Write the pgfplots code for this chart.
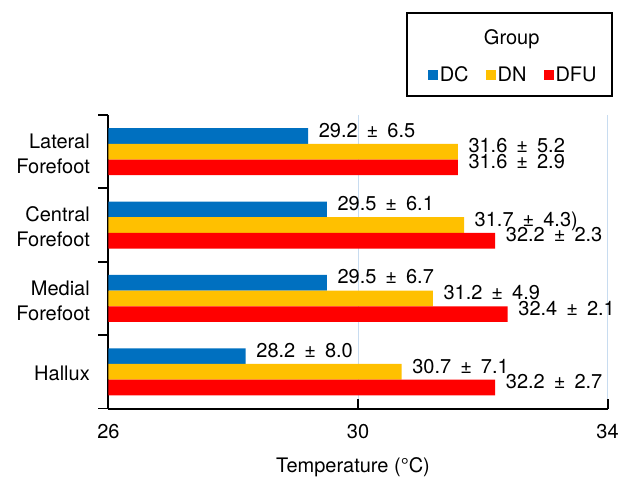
\documentclass[border=0pt]{standalone}
\usepackage{fontspec}
\setmainfont{TeX Gyre Heros}
\usepackage{pgfplots}
\usepackage{pgfplotstable}
\pgfplotsset{compat=1.18}
\definecolor{cDC}{HTML}{0070C0}
\definecolor{cDN}{HTML}{FFC000}
\definecolor{cDFU}{HTML}{FF0000}
\definecolor{gridblue}{RGB}{200,220,240}
\newcommand{\PM}{\hspace{0.45em}±\hspace{0.45em}}
\pgfplotstableread{
y  dc    dclab          dn    dnlab           dfu   dfulab
0  28.2  {28.2\PM 8.0}   30.7  {30.7\PM 7.1}    32.2  {32.2\PM 2.7}
1  29.5  {29.5\PM 6.7}   31.2  {31.2\PM 4.9}    32.4  {32.4\PM 2.1}
2  29.5  {29.5\PM 6.1}   31.7  {31.7\PM 4.3)}   32.2  {32.2\PM 2.3}
3  29.2  {29.2\PM 6.5}   31.6  {31.6\PM 5.2}    31.6  {31.6\PM 2.9}
}\datatable
\begin{document}
\begin{tikzpicture}[font=\fontsize{20}{25}\selectfont]
\useasboundingbox (-108.5pt,-68.5pt) rectangle (512.5pt,408.5pt);
\begin{axis}[
  scale only axis,
  width=499pt, height=293.5pt,
  xmin=26, xmax=34,
  ymin=-0.5, ymax=3.5,
  enlarge y limits=false,
  xtick={26,30,34},
  ytick={-0.5,0.5,1.5,2.5,3.5},
  yticklabels={},
  extra y ticks={0,1,2,3},
  extra y tick labels={Hallux,{Medial\\Forefoot},{Central\\Forefoot},{Lateral\\Forefoot}},
  extra y tick style={major tick length=0pt,
    yticklabel style={anchor=east, align=right, inner sep=0pt, xshift=-18.5pt, yshift=-2pt}},
  axis x line*=bottom,
  axis y line*=left,
  axis line style={line width=2pt, -},
  tick style={line width=1.8pt, black},
  major tick length=10pt,
  tick align=inside,
  xmajorgrids=true,
  major x grid style={gridblue, line width=1pt},
  /pgf/number format/assume math mode=true,
  ticklabel style={font=\fontsize{20}{25}\selectfont},
  xticklabel style={anchor=base, inner sep=0pt, yshift=-30pt},
  xlabel={Temperature (°C)},
  xlabel style={at={(axis description cs:0.49,0)}, anchor=base, inner sep=0pt, yshift=-63.5pt},
  xbar,
  bar width=15.7pt,
  clip=false,
  nodes near coords,
  point meta=explicit symbolic,
  every node near coord/.append style={anchor=base west, inner sep=0pt, xshift=10.5pt, yshift=-1.2pt, font=\fontsize{20}{25}\selectfont, black},
  legend columns=3,
  legend image code/.code={\fill[#1] (0pt,-5pt) rectangle (10pt,5pt);},
  legend style={draw=none, fill=none, at={(axis description cs:0.811,1.136)}, anchor=center,
    font=\fontsize{20}{25}\selectfont,
    /tikz/every even column/.append style={column sep=15pt},
    nodes={inner sep=2pt}},
]
\addplot[fill=cDC, draw=none, bar shift=15.7pt] table[x=dc, y=y, meta=dclab] {\datatable};
\addlegendentry{DC}
\addplot[fill=cDN, draw=none, bar shift=0pt] table[x=dn, y=y, meta=dnlab] {\datatable};
\addlegendentry{DN}
\addplot[fill=cDFU, draw=none, bar shift=-15.7pt] table[x=dfu, y=y, meta=dfulab] {\datatable};
\addlegendentry{DFU}
\draw[line width=2pt, black] (axis description cs:0.5,0) -- ++(0pt,10pt);
\draw[line width=2pt, black] (axis description cs:1,0) -- ++(0pt,10pt);
\draw[line width=1.5pt] (axis description cs:0.598,1.0647) rectangle (axis description cs:1.009,1.3475);
\node[anchor=base, font=\fontsize{20}{25}\selectfont] at (axis description cs:0.808,1.2385) {Group};
\end{axis}
\end{tikzpicture}
\end{document}
